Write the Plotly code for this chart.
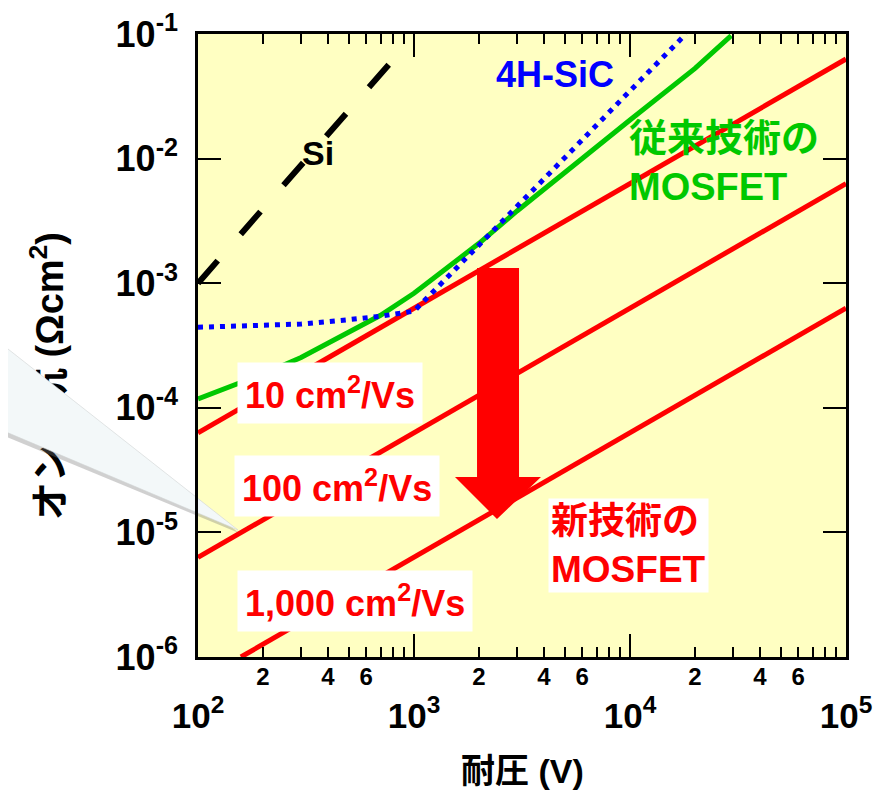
import plotly.graph_objects as go

# ---------------- data ----------------
voltage_si = [100, 766]
ron_si = [1.0e-3, 5.7e-2]

voltage_sic = [100, 200, 300, 500, 700, 1000, 1500, 2000, 3000, 5000, 10000, 18150]
ron_sic = [4.43e-4, 4.56e-4, 4.70e-4, 5.10e-4, 5.43e-4, 5.96e-4, 1.21e-3, 2.02e-3,
           4.17e-3, 1.02e-2, 3.5e-2, 1.0e-1]

voltage_conv = [100, 150, 200, 300, 500, 700, 1000, 1500, 2000, 3000, 5000, 10000, 20000, 29400]
ron_conv = [1.18e-4, 1.55e-4, 1.87e-4, 2.53e-4, 4.01e-4, 5.53e-4, 8.3e-4, 1.41e-3,
            2.09e-3, 3.8e-3, 7.8e-3, 2.04e-2, 5.3e-2, 9.7e-2]

voltage_mu10 = [100, 100000]
ron_mu10 = [6.3e-5, 6.3e-2]
voltage_mu100 = [100, 100000]
ron_mu100 = [6.3e-6, 6.3e-3]
voltage_mu1000 = [158, 100000]
ron_mu1000 = [1.0e-6, 6.3e-4]

x_major_vals = [100, 1000, 10000, 100000]
x_major_text = ["<b>10<sup>2</sup></b>", "<b>10<sup>3</sup></b>",
                "<b>10<sup>4</sup></b>", "<b>10<sup>5</sup></b>"]
x_minor_vals = [m * d for d in (100, 1000, 10000) for m in range(2, 10)]
x_minor_label_vals = [200, 400, 600, 2000, 4000, 6000, 20000, 40000, 60000]
x_minor_label_text = ["<b>2</b>", "<b>4</b>", "<b>6</b>"] * 3
y_major_vals = [1e-6, 1e-5, 1e-4, 1e-3, 1e-2, 1e-1]
y_major_text = ["<b>10<sup>-6</sup></b>", "<b>10<sup>-5</sup></b>", "<b>10<sup>-4</sup></b>",
                "<b>10<sup>-3</sup></b>", "<b>10<sup>-2</sup></b>", "<b>10<sup>-1</sup></b>"]

# ---------------- layout geometry ----------------
# the page body adds an 8px margin, so the figure is 8px smaller and margins compensate
OFF = 8
W, H = 890 - OFF, 794 - OFF
X0, X1, Y0, Y1 = 198, 846, 34, 657          # plot area in window pixels
ML, MT = X0 - OFF, Y0 - OFF
MR, MB = 890 - X1, 794 - Y1
PW, PH = X1 - X0, Y1 - Y0
FONT = "Liberation Sans, Arial, Noto Sans CJK JP, sans-serif"
RED, GREEN, BLUE = "#FF0000", "#00C800", "#0000FF"


def px(x, y):
    """window pixel position -> paper coordinates"""
    return (x - X0) / PW, (Y1 - y) / PH


def path(points):
    s = ""
    for i, (x, y) in enumerate(points):
        u, v = px(x, y)
        s += ("M" if i == 0 else "L") + f"{u:.4f},{v:.4f} "
    return s + "Z"


fig = go.Figure()
for xs, ys in [(voltage_mu10, ron_mu10), (voltage_mu100, ron_mu100), (voltage_mu1000, ron_mu1000)]:
    fig.add_trace(go.Scatter(x=xs, y=ys, mode="lines", line=dict(color=RED, width=5),
                             showlegend=False, hoverinfo="skip"))
fig.add_trace(go.Scatter(x=voltage_conv, y=ron_conv, mode="lines", line=dict(color=GREEN, width=5),
                         showlegend=False, hoverinfo="skip"))
fig.add_trace(go.Scatter(x=voltage_sic, y=ron_sic, mode="lines",
                         line=dict(color=BLUE, width=5, dash="5px,6px"),
                         showlegend=False, hoverinfo="skip"))
fig.add_trace(go.Scatter(x=voltage_si, y=ron_si, mode="lines",
                         line=dict(color="black", width=6, dash="30px,35px"),
                         showlegend=False, hoverinfo="skip"))
# carrier for the secondary (minor label) x axis
fig.add_trace(go.Scatter(x=[100], y=[1e-6], xaxis="x2", mode="none",
                         showlegend=False, hoverinfo="skip"))

axis_common = dict(showline=True, linecolor="black", linewidth=2.5, mirror="ticks",
                   ticks="inside", tickcolor="black", tickwidth=2, showgrid=False,
                   zeroline=False, automargin=False)

fig.update_layout(
    width=W, height=H,
    margin=dict(l=ML, r=MR, t=MT, b=MB, autoexpand=False),
    paper_bgcolor="white", plot_bgcolor="#FFFFC2",
    font=dict(family=FONT, color="black"),
    xaxis=dict(type="log", range=[2, 5], tickvals=x_major_vals, ticktext=x_major_text,
               ticklen=23, tickfont=dict(size=35, family=FONT, color="black"),
               ticklabelstandoff=26,
               minor=dict(ticks="inside", ticklen=10, tickwidth=2, tickcolor="black",
                          tickvals=x_minor_vals, showgrid=False),
               **axis_common),
    xaxis2=dict(type="log", range=[2, 5], overlaying="x", anchor="y", side="bottom",
                tickvals=x_minor_label_vals, ticktext=x_minor_label_text, ticks="",
                showline=False, showgrid=False, zeroline=False, automargin=False,
                ticklabelstandoff=3,
                tickfont=dict(size=24, family=FONT, color="black")),
    yaxis=dict(type="log", range=[-6, -1], tickvals=y_major_vals, ticktext=y_major_text,
               ticklen=23, tickfont=dict(size=36, family=FONT, color="black"),
               ticklabelstandoff=10, **axis_common),
)

# ---------------- decorations ----------------
shapes = []
# y axis title as a shape label (so the callout can cover part of it)
tx, ty0 = px(49, 524)
_, ty1 = px(49, 228)
shapes.append(dict(type="line", xref="paper", yref="paper", x0=tx, x1=tx, y0=ty0, y1=ty1,
                   line=dict(width=0, color="rgba(0,0,0,0)"), layer="below",
                   label=dict(text="<b>オン抵抗 (Ωcm<sup>2</sup>)</b>", textangle=-90,
                              textposition="middle", xanchor="center", yanchor="middle",
                              font=dict(size=38, family=FONT, color="black"))))
# callout tail: soft shadow then fill
shapes.append(dict(type="path", xref="paper", yref="paper", layer="below",
                   path=path([(-20, 330), (239, 533), (-20, 426)]),
                   fillcolor="rgba(120,120,120,0.35)", line=dict(width=0)))
shapes.append(dict(type="path", xref="paper", yref="paper", layer="below",
                   path=path([(-20, 327), (238, 530), (-20, 421)]),
                   fillcolor="#F3F8F9", line=dict(width=0.6, color="#D0D4D4")))
# big red arrow
shapes.append(dict(type="path", xref="paper", yref="paper", layer="above",
                   path=path([(477, 268), (519, 268), (519, 477), (541, 477),
                              (497, 519), (455, 477), (477, 477)]),
                   fillcolor=RED, line=dict(width=0)))
fig.update_layout(shapes=shapes)

ann = []


def add_text(text, x, y, color, size, xanchor="center", align="center", bg=None, pad=1):
    u, v = px(x, y)
    ann.append(dict(text=text, x=u, y=v, xref="paper", yref="paper", showarrow=False,
                    xanchor=xanchor, yanchor="middle", align=align,
                    font=dict(size=size, family=FONT, color=color),
                    bgcolor=bg if bg else "rgba(0,0,0,0)", borderpad=pad))


add_text("<b>Si</b>", 318, 153, "black", 34)
add_text("<b>4H-SiC</b>", 555, 75, BLUE, 36)
add_text("<b>従来技術の<br>MOSFET</b>", 627, 162, GREEN, 38, xanchor="left", align="left")
add_text("<b>10 cm<sup>2</sup>/Vs</b>", 330, 393, RED, 36, bg="white", pad=7)
add_text("<b>100 cm<sup>2</sup>/Vs</b>", 337, 486, RED, 36, bg="white", pad=7)
add_text("<b>1,000 cm<sup>2</sup>/Vs</b>", 355, 601, RED, 36, bg="white", pad=7)
add_text("<b>新技術の<br>MOSFET</b>", 548, 545, RED, 37, xanchor="left", align="left",
         bg="white", pad=2)
add_text("<b>耐圧 (V)</b>", 522, 771, "black", 34)
fig.update_layout(annotations=ann)

fig.write_html("out.html")
